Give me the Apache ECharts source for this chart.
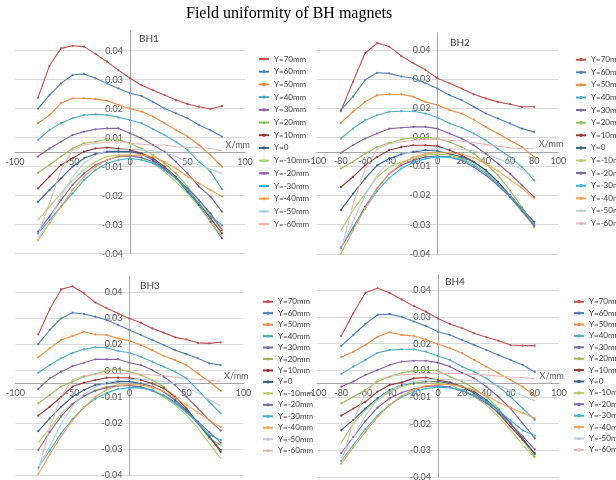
<!DOCTYPE html>
<html>
<head>
<meta charset="utf-8">
<title>Field uniformity of BH magnets</title>
<script src="https://cdn.jsdelivr.net/npm/echarts@6/dist/echarts.min.js"></script>
<style>
  html, body { margin: 0; padding: 0; background: #fff; }
  #main { width: 616px; height: 480px; }
</style>
</head>
<body>
<div id="main"></div>
<script>
// x positions (mm) of the measured points
const xPos = [-80, -70, -60, -50, -40, -30, -20, -10, 0, 10, 20, 30, 40, 50, 60, 70, 80];

const seriesNames = ['Y=70mm', 'Y=60mm', 'Y=50mm', 'Y=40mm', 'Y=30mm', 'Y=20mm', 'Y=10mm',
  'Y=0', 'Y=-10mm', 'Y=-20mm', 'Y=-30mm', 'Y=-40mm', 'Y=-50mm', 'Y=-60mm'];

const seriesColors = ['#C0504D', '#4F81BD', '#F08A3C', '#4BACC6', '#8064A2', '#9BBB59', '#953735',
  '#376092', '#A9D065', '#7F63A8', '#31B6D8', '#F9A04F', '#B9CDE5', '#E6B9B8'];

// series without markers
const noMarker = ['Y=-10mm', 'Y=-50mm', 'Y=-60mm'];

const panelTitles = ['BH1', 'BH2', 'BH3', 'BH4'];

// field values, in units of 1e-3 (one row per series, same order as seriesNames)
const bh1 = [
  [18.8, 29.8, 35.8, 36.7, 36.4, 33.9, 31.2, 28.3, 25.5, 23.1, 21.4, 19.7, 18.0, 16.6, 15.7, 14.9, 15.9],
  [15.0, 19.7, 23.7, 26.6, 27.0, 25.5, 23.7, 22.0, 20.3, 19.4, 17.4, 15.1, 13.4, 11.7, 9.4, 7.6, 5.4],
  [10.0, 12.8, 16.9, 18.6, 18.6, 18.3, 17.8, 16.3, 15.1, 14.0, 12.3, 10.0, 7.7, 5.4, 2.5, -1.0, -5.0],
  [4.2, 7.7, 10.0, 11.7, 12.8, 13.1, 12.8, 12.0, 11.1, 10.0, 8.0, 5.9, 3.6, 0.8, -3.3, -6.7, -12.8],
  [-1.5, 1.3, 3.6, 5.9, 7.1, 7.9, 8.2, 8.2, 6.5, 4.8, 2.5, 0.2, -3.3, -7.3, -11.9, -15.3, -20.5],
  [-7.1, -4.4, -1.5, 1.3, 3.1, 3.6, 4.4, 4.2, 3.1, 1.3, -1.0, -3.8, -7.3, -11.9, -16.5, -21.7, -26.8],
  [-12.5, -8.4, -4.4, -2.1, 0.2, 1.3, 1.6, 1.3, 0.8, -0.4, -2.1, -5.0, -8.4, -13.0, -17.6, -22.8, -28.0],
  [-17.1, -13.0, -9.0, -5.0, -2.1, -0.6, 0.1, 0.3, 0.2, -0.6, -2.7, -5.6, -9.0, -13.6, -18.2, -24.0, -29.7],
  [-23.4, -18.8, -14.2, -9.6, -6.1, -3.3, -1.5, -1.0, -1.0, -2.1, -3.8, -6.7, -10.2, -14.2, -18.8, -24.0, -29.1],
  [-27.4, -22.2, -16.5, -11.3, -7.3, -4.4, -2.7, -1.5, -1.3, -1.8, -3.3, -6.1, -9.0, -12.5, -16.5, -21.1, -26.8],
  [-28.0, -23.4, -18.8, -14.2, -9.6, -6.1, -3.8, -2.7, -2.1, -2.7, -3.8, -6.1, -9.0, -13.0, -17.6, -22.2, -25.1],
  [-30.3, -24.5, -18.8, -13.0, -8.4, -5.0, -2.7, -1.3, -1.0, -1.0, -1.5, -3.3, -5.6, -8.4, -10.7, -13.0, -15.3],
  [-29.7, -23.4, -15.3, -8.4, -3.8, -1.0, 0.5, 1.0, 1.0, 0.8, 0.5, -0.2, -1.5, -3.3, -4.4, -5.9, -7.3],
  [-28.6, -17.6, -6.1, 0.8, 2.5, 3.1, 3.4, 3.6, 3.1, 2.8, 2.5, 2.5, 1.9, 1.7, 1.6, 1.3, 0.5]
];

const bh2 = [
  [14.0, 24.1, 33.9, 37.4, 36.2, 33.0, 30.5, 28.2, 25.3, 23.6, 21.8, 19.8, 18.4, 17.2, 16.4, 15.5, 15.5],
  [14.4, 19.0, 24.7, 27.2, 27.0, 25.9, 25.3, 23.6, 21.8, 19.5, 17.8, 15.5, 13.2, 11.5, 9.8, 8.0, 6.9],
  [10.0, 13.8, 17.2, 19.5, 19.8, 19.8, 19.0, 17.2, 16.1, 14.4, 13.2, 11.1, 8.6, 6.3, 4.0, 1.7, -1.7],
  [4.6, 8.0, 10.9, 12.6, 13.8, 14.0, 14.0, 13.2, 11.8, 9.8, 8.3, 6.3, 4.0, 1.1, -1.7, -5.2, -9.8],
  [-0.3, 2.3, 4.6, 6.3, 8.0, 8.3, 8.6, 8.6, 8.0, 6.3, 4.6, 2.3, -0.6, -4.0, -7.5, -11.5, -15.5],
  [-5.7, -3.4, -0.6, 1.7, 3.1, 4.3, 4.9, 4.9, 4.6, 3.4, 1.7, -0.6, -4.0, -8.0, -13.2, -19.0, -25.9],
  [-12.1, -8.6, -4.6, -1.7, 0.6, 1.7, 2.3, 2.3, 2.0, 0.6, -1.1, -3.4, -6.3, -10.3, -14.9, -19.5, -24.1],
  [-20.0, -14.4, -9.2, -4.6, -2.3, -0.8, 0.0, 0.6, 0.3, -0.6, -1.7, -3.4, -6.3, -10.3, -14.9, -20.1, -25.3],
  [-27.0, -20.1, -14.4, -8.6, -5.2, -3.4, -2.3, -1.1, -0.8, -1.1, -2.3, -4.0, -6.9, -10.9, -15.5, -20.7, -25.3],
  [-32.8, -26.2, -18.9, -12.5, -7.5, -4.6, -2.9, -1.7, -1.4, -1.7, -2.9, -5.2, -8.0, -11.5, -15.5, -20.1, -25.3],
  [-33.0, -26.0, -19.5, -13.5, -9.0, -5.7, -3.6, -2.3, -1.7, -1.8, -2.6, -4.6, -7.5, -11.0, -15.0, -19.5, -24.5],
  [-35.0, -27.0, -19.5, -12.5, -7.5, -4.0, -1.8, -0.6, -0.3, -0.3, -0.8, -2.0, -4.0, -6.5, -9.5, -12.5, -16.0],
  [-33.0, -24.0, -15.0, -8.0, -3.4, -1.1, 0.3, 0.9, 1.1, 1.1, 0.9, 0.3, -0.6, -2.3, -4.0, -6.0, -8.5],
  [-34.0, -18.0, -6.0, 1.0, 2.8, 3.4, 4.0, 4.3, 4.3, 4.0, 3.7, 3.2, 2.6, 2.0, 1.4, 1.1, 1.1]
];

const bh3 = [
  [18.8, 28.4, 36.0, 37.2, 34.5, 31.0, 28.8, 26.8, 24.9, 23.3, 21.1, 19.5, 17.7, 16.9, 15.6, 15.4, 15.8],
  [15.1, 20.5, 24.9, 27.1, 26.6, 25.6, 24.3, 22.4, 20.5, 18.6, 16.7, 14.8, 12.8, 11.3, 9.7, 7.8, 7.1],
  [10.1, 13.5, 16.7, 18.2, 19.8, 18.8, 18.6, 17.3, 16.4, 14.8, 12.8, 10.6, 9.0, 7.1, 3.9, 0.8, -2.7],
  [4.2, 7.1, 9.7, 11.8, 13.1, 13.9, 13.7, 12.5, 11.8, 10.3, 8.4, 6.5, 4.6, 2.0, -2.4, -6.9, -11.3],
  [-2.0, 2.0, 4.6, 6.7, 8.0, 9.3, 9.3, 9.3, 8.0, 7.1, 5.2, 2.7, -0.5, -5.0, -9.4, -13.9, -17.9],
  [-7.5, -4.3, -1.1, 0.8, 2.7, 3.7, 5.0, 5.5, 4.6, 3.3, 1.4, -1.1, -5.0, -9.4, -15.1, -20.9, -23.4],
  [-12.2, -8.8, -5.0, -1.1, 0.4, 1.4, 2.3, 2.3, 2.3, 1.4, 0.1, -1.8, -5.0, -9.4, -15.1, -20.2, -26.0],
  [-18.1, -13.2, -8.8, -5.0, -2.4, -0.5, 0.1, 0.8, 0.8, 0.1, -1.1, -3.1, -6.2, -10.1, -15.1, -20.2, -25.3],
  [-22.5, -17.0, -11.3, -7.5, -4.7, -2.4, -1.1, -0.5, -0.5, -1.1, -2.4, -5.0, -8.1, -12.0, -17.0, -22.8, -28.5],
  [-25.3, -18.5, -12.5, -7.8, -4.7, -2.7, -1.5, -0.8, -0.8, -1.3, -2.7, -4.5, -7.0, -10.5, -14.5, -18.5, -22.5],
  [-32.0, -25.5, -19.0, -13.5, -9.0, -5.8, -3.5, -2.0, -1.5, -1.6, -2.5, -4.5, -7.5, -11.0, -15.0, -19.5, -21.5],
  [-34.5, -27.0, -20.0, -14.0, -9.0, -5.0, -2.3, -0.8, -0.3, -0.5, -1.4, -3.0, -5.5, -8.0, -11.0, -14.0, -16.5],
  [-32.0, -24.0, -15.5, -8.5, -4.0, -1.3, 0.4, 1.3, 1.6, 1.6, 1.4, 0.8, 0.0, -1.4, -3.5, -6.0, -8.5],
  [-33.0, -17.0, -5.0, 1.5, 3.0, 3.6, 3.8, 3.9, 3.8, 3.6, 3.3, 3.0, 2.5, 2.0, 1.6, 1.3, 1.0]
];

const bh4 = [
  [17.9, 26.4, 34.1, 35.8, 34.1, 31.6, 29.1, 27.0, 24.5, 22.4, 20.8, 18.9, 17.4, 16.1, 14.5, 14.3, 14.3],
  [14.1, 18.3, 22.4, 25.8, 26.1, 25.1, 23.3, 21.6, 19.5, 18.3, 16.4, 14.5, 12.6, 10.8, 8.9, 7.0, 4.4],
  [9.9, 12.0, 14.5, 17.6, 19.3, 18.3, 17.9, 16.6, 14.8, 13.3, 11.4, 8.9, 6.4, 3.9, 1.4, -1.1, -4.6],
  [3.6, 6.4, 8.9, 11.6, 12.6, 12.9, 12.9, 12.0, 10.4, 8.9, 6.4, 4.5, 2.0, -1.1, -4.9, -9.3, -13.6],
  [-1.1, 0.8, 3.3, 5.1, 7.0, 8.3, 8.6, 8.6, 7.9, 6.4, 4.1, 2.0, -1.1, -4.9, -9.3, -14.9, -20.5],
  [-7.4, -4.9, -2.4, 0.8, 2.6, 4.1, 4.9, 5.1, 4.9, 2.6, 0.8, -1.8, -4.9, -9.3, -14.9, -21.1, -27.4],
  [-12.0, -9.3, -6.8, -3.0, -0.5, 0.5, 2.0, 2.3, 1.4, 0.5, -1.1, -3.6, -6.8, -11.1, -16.1, -21.1, -26.1],
  [-17.4, -13.6, -9.3, -5.5, -2.4, -0.5, 0.1, 0.8, 0.8, 0.1, -1.1, -3.0, -6.1, -9.9, -14.9, -20.5, -26.4],
  [-22.1, -14.9, -9.9, -6.1, -3.0, -1.1, 0.1, 0.8, 0.5, -0.5, -2.4, -4.9, -8.0, -12.4, -17.4, -23.0, -28.0],
  [-26.1, -20.0, -14.0, -9.0, -5.5, -3.3, -2.0, -1.0, -0.8, -1.3, -2.6, -4.6, -7.3, -10.8, -15.0, -19.8, -24.6],
  [-29.0, -23.0, -17.0, -12.0, -8.0, -5.0, -3.0, -1.8, -1.3, -1.5, -2.5, -4.3, -6.8, -10.0, -13.8, -17.5, -19.5],
  [-30.0, -24.0, -18.0, -12.5, -8.0, -4.5, -2.3, -0.8, -0.3, -0.3, -1.0, -2.5, -4.5, -7.0, -9.0, -11.0, -13.0],
  [-28.0, -20.0, -12.0, -6.0, -2.5, -0.5, 0.8, 1.4, 1.6, 1.6, 1.4, 1.0, 0.3, -0.8, -2.5, -4.5, -6.5],
  [-30.0, -14.0, -3.5, 1.5, 2.8, 3.3, 3.6, 3.8, 3.9, 3.8, 3.8, 3.5, 3.3, 2.8, 2.5, 2.3, 1.8]
];

const panels = [bh1, bh2, bh3, bh4];

const FONT = 'Lato, "Liberation Sans", sans-serif';
const AXIS_COLOR = '#A6A6A6';
const GRID_COLOR = '#D9D9D9';
const TEXT_COLOR = '#595959';

// plot area of each panel (px)
const grids = [
  { left: 15, top: 30.4, width: 230, height: 223.3 },
  { left: 316.7, top: 32.6, width: 241.6, height: 221.2 },
  { left: 15.5, top: 276.3, width: 228, height: 199.1 },
  { left: 317, top: 274.4, width: 242, height: 202.6 }
];
const yMin = -0.035;
const yMax = [0.042, 0.041, 0.041, 0.041];
const xMin = -100, xMax = 100;
const xStep = [50, 20, 50, 20];

// Excel-like 2 decimal label, rounding halves away from zero
function yLabel(v) {
  const r = Math.round(Math.abs(v) * 100 + 1e-9) / 100;
  return (v < 0 ? '-' : '') + r.toFixed(2);
}

const chart = echarts.init(document.getElementById('main'));

const titles = [{
  text: 'Field uniformity of BH magnets',
  left: 181, top: 1,
  textStyle: { fontFamily: '"Liberation Serif", "Times New Roman", serif', fontSize: 16, fontWeight: 'normal', color: '#000' }
}];
const titlePos = [[134, 29], [445, 33], [135, 276], [440, 272]];
panelTitles.forEach((t, p) => {
  titles.push({
    text: t, left: titlePos[p][0], top: titlePos[p][1],
    textStyle: { fontFamily: FONT, fontSize: 10, fontWeight: 'normal', color: '#404040' }
  });
});

const xAxes = [], yAxes = [], series = [];
panels.forEach((rows, p) => {
  const g = grids[p];
  // axes cross at (0, 0): shift them into the plot with an offset
  const zeroFromBottom = g.height * (0 - yMin) / (yMax[p] - yMin);
  const zeroFromLeft = g.width * (0 - xMin) / (xMax - xMin);
  xAxes.push({
    type: 'value', gridIndex: p, min: xMin, max: xMax, interval: xStep[p],
    position: 'bottom', offset: -zeroFromBottom,
    name: 'X/mm', nameLocation: 'end', nameGap: 5,
    nameTextStyle: { fontFamily: FONT, fontSize: 9, color: TEXT_COLOR, align: 'right', verticalAlign: 'bottom', padding: [0, 0, 3, 0] },
    axisLine: { onZero: false, lineStyle: { color: AXIS_COLOR, width: 1 } },
    axisTick: { show: false },
    axisLabel: { fontFamily: FONT, fontSize: 9, color: TEXT_COLOR, margin: 5 },
    splitLine: { show: false }
  });
  yAxes.push({
    type: 'value', gridIndex: p, min: yMin, max: yMax[p], interval: 0.01,
    position: 'left', offset: -zeroFromLeft,
    axisLine: { show: true, onZero: false, lineStyle: { color: AXIS_COLOR, width: 1 } },
    axisTick: { show: false },
    axisLabel: { fontFamily: FONT, fontSize: 9, color: TEXT_COLOR, margin: 7, formatter: yLabel, showMaxLabel: false },
    splitLine: { show: true, showMaxLine: false, lineStyle: { color: GRID_COLOR, width: 1 } }
  });
  rows.forEach((vals, i) => {
    const name = seriesNames[i];
    series.push({
      type: 'line', name: name, xAxisIndex: p, yAxisIndex: p,
      data: xPos.map((x, j) => [x, vals[j] / 1000]),
      symbol: noMarker.indexOf(name) >= 0 ? 'none' : 'circle',
      symbolSize: 2.2,
      lineStyle: { width: 1.1, color: seriesColors[i] },
      itemStyle: { color: seriesColors[i] },
      emphasis: { disabled: true }
    });
  });
});

const legendPos = [
  { left: 258, top: 54.5, itemGap: 3.7 },
  { left: 575, top: 55.2, itemGap: 3.6 },
  { left: 262, top: 297.2, itemGap: 2.46 },
  { left: 573, top: 297.2, itemGap: 2.4 }
];
const legends = legendPos.map(l => ({
  data: seriesNames, orient: 'vertical', left: l.left, top: l.top, itemGap: l.itemGap,
  itemWidth: 10, itemHeight: 4, padding: 0, selectedMode: false,
  textStyle: { fontFamily: FONT, fontSize: 8, lineHeight: 9, color: '#404040' }
}));

chart.setOption({
  backgroundColor: '#fff',
  animation: false,
  title: titles,
  legend: legends,
  grid: grids.map(g => Object.assign({ outerBoundsMode: 'none', containLabel: false }, g)),
  xAxis: xAxes,
  yAxis: yAxes,
  series: series
});
</script>
</body>
</html>
